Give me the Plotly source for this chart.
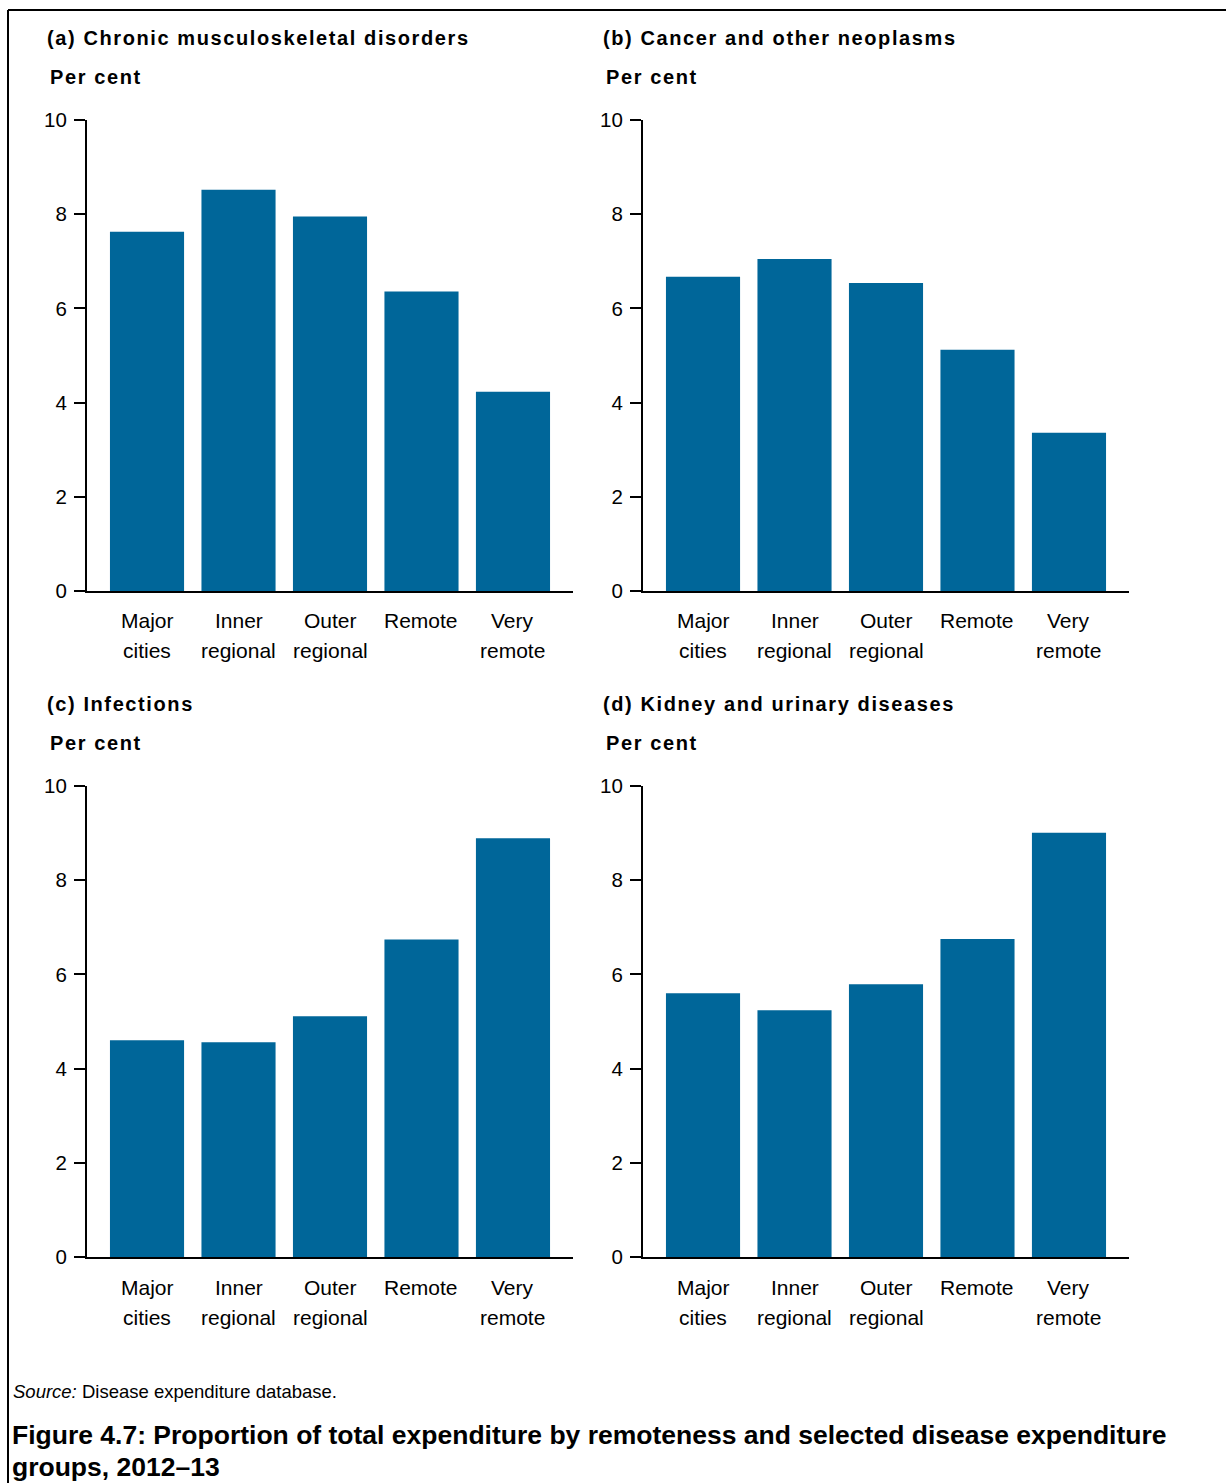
import plotly.graph_objects as go

# ---------------- data ----------------
categories = ["Major cities", "Inner regional", "Outer regional", "Remote", "Very remote"]
label_line1 = ["Major", "Inner", "Outer", "Remote", "Very"]
label_line2 = ["cities", "regional", "regional", "", "remote"]

panel_titles = [
    "(a) Chronic musculoskeletal disorders",
    "(b) Cancer and other neoplasms",
    "(c) Infections",
    "(d) Kidney and urinary diseases",
]
musculoskeletal = [7.63, 8.52, 7.95, 6.36, 4.23]
cancer = [6.67, 7.05, 6.54, 5.12, 3.36]
infections = [4.60, 4.56, 5.11, 6.74, 8.89]
kidney = [5.60, 5.24, 5.79, 6.75, 9.01]

y_ticks = [0, 2, 4, 6, 8, 10]
y_title = "Per cent"
source_label = "Source:"
source_text = " Disease expenditure database."
figure_title_lines = [
    "Figure 4.7: Proportion of total expenditure by remoteness and selected disease expenditure",
    "groups, 2012\u201313",
]

# ---------------- layout constants (pixels) ----------------
W, H = 1226, 1483
FONT = "Liberation Sans, Arial, sans-serif"
BAR = "#006699"
panel_x = [(87, 573), (643, 1129)]
panel_y = [(120, 591), (786, 1257)]


def px(x):
    return x / W


def py(y):
    return 1 - y / H


series = [musculoskeletal, cancer, infections, kidney]
fig = go.Figure()
annotations = []

for i, vals in enumerate(series):
    col, row = i % 2, i // 2
    x0, x1 = panel_x[col]
    ytop, ybot = panel_y[row]
    n = i + 1
    xa = "x" if n == 1 else f"x{n}"
    ya = "y" if n == 1 else f"y{n}"
    fig.add_trace(go.Bar(
        x=categories, y=vals, xaxis=xa, yaxis=ya,
        marker=dict(color=BAR, line=dict(width=0)), width=0.81,
        showlegend=False, hoverinfo="x+y",
    ))
    xkey = "xaxis" if n == 1 else f"xaxis{n}"
    ykey = "yaxis" if n == 1 else f"yaxis{n}"
    fig.layout[xkey] = dict(
        domain=[px(x0), px(x1)], anchor=ya, type="category",
        categoryorder="array", categoryarray=categories,
        range=[-0.656, 4.656], showline=True, linecolor="black", linewidth=2,
        ticks="", showticklabels=False, showgrid=False, zeroline=False,
        fixedrange=True, automargin=False,
    )
    fig.layout[ykey] = dict(
        domain=[py(ybot), py(ytop)], anchor=xa, range=[0, 10],
        tickvals=y_ticks, ticktext=[str(t) for t in y_ticks],
        showline=True, linecolor="black", linewidth=2,
        ticks="outside", ticklen=11, tickwidth=2, tickcolor="black",
        ticklabelstandoff=3,
        tickfont=dict(family=FONT, size=20.5, color="black"),
        showgrid=False, zeroline=False, fixedrange=True, automargin=False,
    )
    # panel title
    annotations.append(dict(
        xref="paper", yref="paper", x=px(x0 - 42), y=py(ytop - 82),
        xanchor="left", yanchor="middle", showarrow=False,
        text=f'<span style="letter-spacing:1.6px">{panel_titles[i]}</span>',
        font=dict(family=FONT, size=20, color="black", weight="bold"),
    ))
    annotations.append(dict(
        xref="paper", yref="paper", x=px(x0 - 39), y=py(ytop - 43),
        xanchor="left", yanchor="middle", showarrow=False,
        text=f'<span style="letter-spacing:1.6px">{y_title}</span>',
        font=dict(family=FONT, size=20, color="black", weight="bold"),
    ))
    # category labels (two lines)
    for c, l1, l2 in zip(categories, label_line1, label_line2):
        for txt, dy in ((l1, 30), (l2, 60)):
            if not txt:
                continue
            annotations.append(dict(
                xref=xa, yref="paper", x=c, y=py(ybot + dy),
                xanchor="center", yanchor="middle", showarrow=False,
                text=txt, font=dict(family=FONT, size=21, color="black"),
            ))

annotations.append(dict(
    xref="paper", yref="paper", x=px(11), y=py(1391),
    xanchor="left", yanchor="middle", showarrow=False,
    text=f"<i>{source_label}</i>{source_text}",
    font=dict(family=FONT, size=18.5, color="black"),
))
for k, line in enumerate(figure_title_lines):
    annotations.append(dict(
        xref="paper", yref="paper", x=px(10), y=py(1435 + 32 * k),
        xanchor="left", yanchor="middle", showarrow=False,
        text=line, font=dict(family=FONT, size=26.5, color="black", weight="bold"),
    ))

shapes = [
    dict(type="line", xref="paper", yref="paper", x0=px(8), x1=1, y0=py(10), y1=py(10),
         line=dict(color="black", width=2)),
    dict(type="line", xref="paper", yref="paper", x0=px(8), x1=px(8), y0=py(10), y1=0,
         line=dict(color="black", width=2)),
]

fig.update_layout(
    width=W, height=H,
    margin=dict(l=0, r=0, t=0, b=0, pad=0, autoexpand=False),
    paper_bgcolor="white", plot_bgcolor="white",
    font=dict(family=FONT, color="black"),
    annotations=annotations, shapes=shapes, bargap=0.19,
)

fig.write_html("out.html", config={"displayModeBar": False})
